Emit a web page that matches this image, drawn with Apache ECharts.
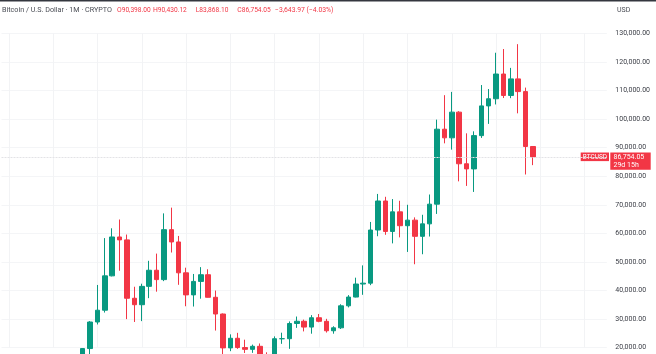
<!DOCTYPE html>
<html><head><meta charset="utf-8">
<script src="https://cdn.jsdelivr.net/npm/echarts@6/dist/echarts.min.js"></script>
<style>html,body{margin:0;padding:0;background:#fff}#c{width:656px;height:354px}</style>
</head><body><div id="c"></div>
<script>
// Axis categories (monthly), including empty months before/after the data
const axisMonths = [
 '2019-12',
 '2020-01','2020-02','2020-03','2020-04','2020-05','2020-06','2020-07','2020-08','2020-09','2020-10','2020-11','2020-12',
 '2021-01','2021-02','2021-03','2021-04','2021-05','2021-06','2021-07','2021-08','2021-09','2021-10','2021-11','2021-12',
 '2022-01','2022-02','2022-03','2022-04','2022-05','2022-06','2022-07','2022-08','2022-09','2022-10','2022-11','2022-12',
 '2023-01','2023-02','2023-03','2023-04','2023-05','2023-06','2023-07','2023-08','2023-09','2023-10','2023-11','2023-12',
 '2024-01','2024-02','2024-03','2024-04','2024-05','2024-06','2024-07','2024-08','2024-09','2024-10','2024-11','2024-12',
 '2025-01','2025-02','2025-03','2025-04','2025-05','2025-06','2025-07','2025-08','2025-09','2025-10','2025-11','2025-12',
 '2026-01','2026-02','2026-03','2026-04','2026-05','2026-06','2026-07','2026-08','2026-09','2026-10'
];
// Months that have candles
const dataMonths = [
 '2020-11','2020-12',
 '2021-01','2021-02','2021-03','2021-04','2021-05','2021-06','2021-07','2021-08','2021-09','2021-10','2021-11','2021-12',
 '2022-01','2022-02','2022-03','2022-04','2022-05','2022-06','2022-07','2022-08','2022-09','2022-10','2022-11','2022-12',
 '2023-01','2023-02','2023-03','2023-04','2023-05','2023-06','2023-07','2023-08','2023-09','2023-10','2023-11','2023-12',
 '2024-01','2024-02','2024-03','2024-04','2024-05','2024-06','2024-07','2024-08','2024-09','2024-10','2024-11','2024-12',
 '2025-01','2025-02','2025-03','2025-04','2025-05','2025-06','2025-07','2025-08','2025-09','2025-10','2025-11','2025-12'
];
const opens = [
 13797, 19700,
 28990, 33114, 45137, 58740, 57720, 37300, 35040, 41460, 47100, 43820, 61300, 57000,
 46200, 38480, 43190, 45530, 37640, 31790, 19930, 23300, 20050, 19420, 20490, 17170,
 16540, 23140, 23150, 28470, 29250, 27220, 30480, 29230, 25930, 26960, 34650, 37720,
 42280, 42580, 61180, 71330, 60670, 67530, 62680, 64630, 58970, 63330, 70220, 96450,
 93430, 102420, 84350, 82550, 94200, 104600, 107100, 115750, 108250, 114050, 109600, 90398.00
];
const closes = [
 19700, 28990,
 33114, 45137, 58740, 57720, 37300, 35040, 41460, 47100, 43820, 61300, 57000, 46200,
 38480, 43190, 45530, 37640, 31790, 19930, 23300, 20050, 19420, 20490, 17170, 16540,
 23140, 23150, 28470, 29250, 27220, 30480, 29230, 25930, 26960, 34650, 37720, 42280,
 42580, 61180, 71330, 60670, 67530, 62680, 64630, 58970, 63330, 70220, 96450, 93430,
 102420, 84350, 82550, 94200, 104600, 107100, 115750, 108250, 114050, 109600, 90398, 86754.05
];
const lows = [
 13242, 17572,
 28130, 32296, 44960, 46930, 30000, 29000, 29300, 37330, 39600, 43290, 53300, 42000,
 34500, 34400, 37150, 37700, 26000, 17600, 18780, 19600, 18150, 18200, 15480, 16260,
 16500, 21350, 19600, 26940, 25700, 24900, 28900, 25300, 24900, 26540, 34100, 37600,
 38500, 41880, 59000, 59500, 56500, 58600, 53500, 49200, 52700, 58900, 66800, 91500,
 89300, 78200, 76600, 74500, 93400, 98300, 105100, 107350, 107300, 102000, 80600, 83868.10
];
const highs = [
 19860, 29300,
 41950, 58350, 61780, 64850, 59590, 41330, 42390, 50400, 52920, 67000, 69000, 59100,
 47990, 45800, 48190, 47440, 40000, 31980, 24670, 25200, 22800, 21080, 21480, 18390,
 23960, 25250, 29190, 30900, 29820, 31400, 31800, 30100, 27500, 35200, 38400, 44500,
 48800, 64000, 73800, 72800, 72000, 71400, 70000, 65600, 66500, 73600, 99800, 108350,
 109500, 102750, 95000, 95700, 111900, 110500, 123200, 124500, 117900, 126200, 111000, 90430.12
];
const yTickMin = 20000, yTickMax = 130000, yTickStep = 10000;

const UP = '#089981', DOWN = '#f23645';
const candleData = axisMonths.map(m => {
  const i = dataMonths.indexOf(m);
  return i < 0 ? '-' : [opens[i], closes[i], lows[i], highs[i]];
});
const lastClose = closes[closes.length - 1];

const chart = echarts.init(document.getElementById('c'), null, {renderer: 'canvas'});
const FONT = 'Roboto';
chart.setOption({
  animation: false,
  backgroundColor: '#ffffff',
  grid: {left: 1.5, right: 49.2, top: 33.3, bottom: 6.3},
  xAxis: {
    type: 'category', data: axisMonths, boundaryGap: false,
    axisLine: {show: false}, axisTick: {show: false}, axisLabel: {show: false},
    splitLine: {show: true, interval: (i, v) => /-(01|07)$/.test(v), lineStyle: {color: '#f2f3f5', width: 1}}
  },
  yAxis: {
    type: 'value', position: 'right', min: yTickMin, max: yTickMax, interval: yTickStep, scale: true,
    axisLine: {show: false}, axisTick: {show: false},
    axisLabel: {margin: 8.5, color: '#3a3d45', fontSize: 7, fontFamily: FONT,
      formatter: v => v.toLocaleString('en-US', {minimumFractionDigits: 2, maximumFractionDigits: 2})},
    splitLine: {show: true, lineStyle: {color: '#f4f5f7', width: 1}}
  },
  series: [{
    type: 'candlestick', data: candleData, clip: false, barWidth: 5,
    itemStyle: {color: UP, color0: DOWN, borderColor: UP, borderColor0: DOWN, borderWidth: 1},
    markLine: {
      silent: true, symbol: 'none', animation: false,
      label: {show: false},
      lineStyle: {color: '#e3e3e6', type: [2, 1], width: 1},
      data: [{yAxis: lastClose}]
    }
  }]
});

const py = chart.convertToPixel({yAxisIndex: 0}, lastClose);
const gray = '#4a4d55';
const block = (x, letter, value) => ({type: 'text', x: x, y: 10,
  style: {text: '{l|' + letter + '}{v|' + value + '}', textVerticalAlign: 'middle',
    rich: {l: {fill: DOWN, font: '6.8px ' + FONT}, v: {fill: DOWN, font: '6.6px ' + FONT}}}});
chart.setOption({
  graphic: [
    {type: 'rect', shape: {x: 0, y: 0, width: 656, height: 1.5}, style: {fill: '#34373f'}},
    {type: 'text', x: 2, y: 10, style: {text: 'Bitcoin / U.S. Dollar · 1M · CRYPTO', fill: gray, font: '7.2px ' + FONT, textVerticalAlign: 'middle'}},
    block(117, 'O', '90,398.00'),
    block(153, 'H', '90,430.12'),
    block(195.7, 'L', '83,868.10'),
    block(237.3, 'C', '86,754.05'),
    {type: 'text', x: 275, y: 10, style: {text: '−3,643.97 (−4.03%)', fill: DOWN, font: '6.8px ' + FONT, textVerticalAlign: 'middle'}},
    {type: 'text', x: 617, y: 10, style: {text: 'USD', fill: gray, font: '7px ' + FONT, textVerticalAlign: 'middle'}},
    {type: 'rect', shape: {x: 580.7, y: py - 4.4, width: 28.3, height: 8.6}, style: {fill: DOWN}},
    {type: 'text', x: 594.85, y: py, style: {text: 'BTCUSD', fill: '#fff', font: '6.5px ' + FONT, textAlign: 'center', textVerticalAlign: 'middle'}},
    {type: 'rect', shape: {x: 610.3, y: py - 4.4, width: 40.4, height: 17.2}, style: {fill: DOWN}},
    {type: 'text', x: 613.5, y: py, style: {text: '86,754.05', fill: '#fff', font: '7px ' + FONT, textVerticalAlign: 'middle'}},
    {type: 'text', x: 613.5, y: py + 8, style: {text: '29d 15h', fill: '#fff', font: '7px ' + FONT, textVerticalAlign: 'middle'}}
  ]
});
</script></body></html>
